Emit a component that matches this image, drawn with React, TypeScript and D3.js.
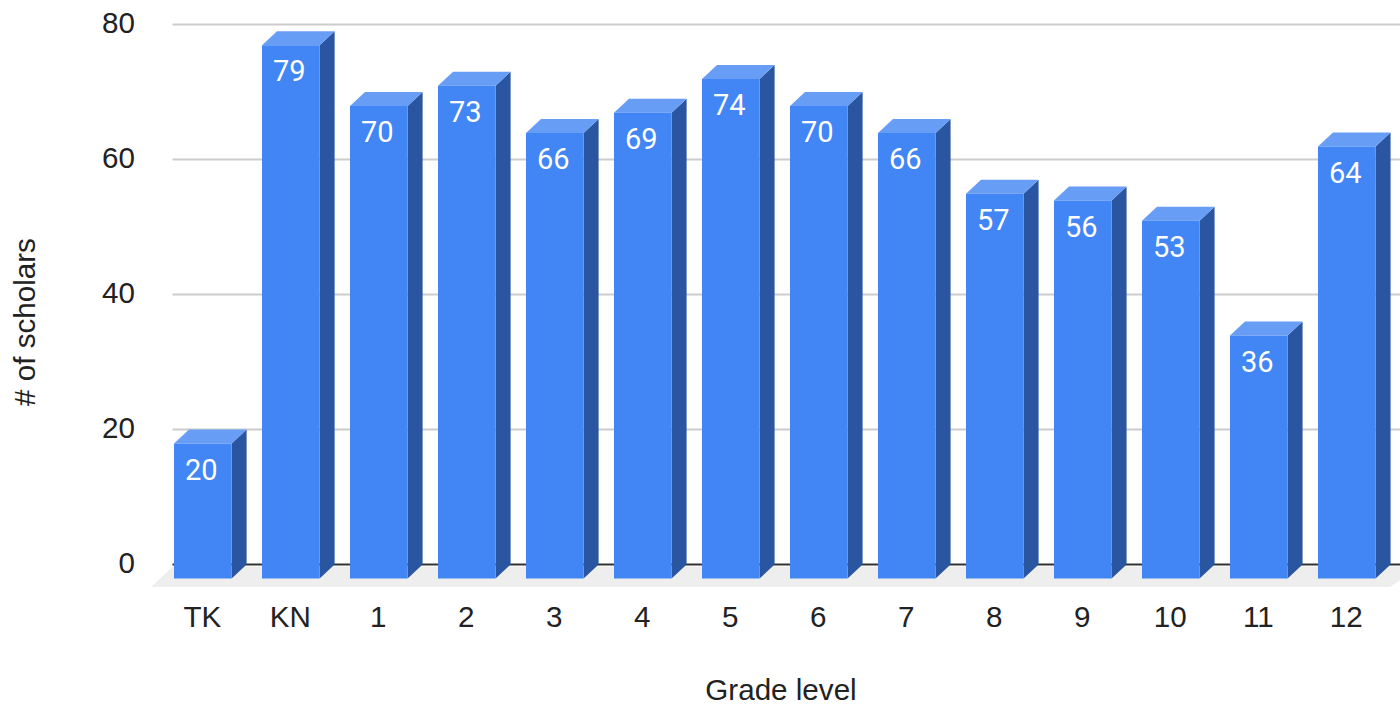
import React, { useEffect, useRef } from "react";
import * as d3 from "d3";

const grades = ["TK", "KN", "1", "2", "3", "4", "5", "6", "7", "8", "9", "10", "11", "12"];
const scholars = [20, 79, 70, 73, 66, 69, 74, 70, 66, 57, 56, 53, 36, 64];
const yTicks = [0, 20, 40, 60, 80];

const W = 1400;
const H = 704;
const depthX = 15;
const depthY = 14;
const axisFont = "'Liberation Sans', Arial, sans-serif";
const axisSize = 29.6;

const App: React.FC = () => {
  const ref = useRef<SVGSVGElement>(null);

  useEffect(() => {
    const svg = d3.select(ref.current);
    svg.selectAll("*").remove();

    // front face positions, the back wall sits one depth up and to the right
    const x = d3
      .scaleBand()
      .domain(grades)
      .range([159.5, 1390.1])
      .paddingInner(0.3455)
      .paddingOuter(0.165);
    const y = d3.scaleLinear().domain([0, 80]).range([578.5, 38.5]);
    const bw = x.bandwidth();
    const line = (pts: [number, number][]) => d3.line()(pts) + "Z";

    // floor
    svg
      .append("path")
      .attr("d", line([[151, 587], [173, 566.5], [W + 20, 566.5], [1390, 587]]))
      .attr("fill", "#eeeeee");

    // grid
    svg
      .append("g")
      .selectAll("line")
      .data(yTicks.filter((d) => d > 0))
      .enter()
      .append("line")
      .attr("x1", 172.5)
      .attr("x2", W)
      .attr("y1", (d) => y(d) - depthY)
      .attr("y2", (d) => y(d) - depthY)
      .attr("stroke", "#cccccc")
      .attr("stroke-width", 2);

    svg
      .append("line")
      .attr("x1", 172.5)
      .attr("x2", W)
      .attr("y1", y(0) - depthY)
      .attr("y2", y(0) - depthY)
      .attr("stroke", "#333333")
      .attr("stroke-width", 2);

    svg
      .append("g")
      .selectAll("text")
      .data(yTicks)
      .enter()
      .append("text")
      .attr("x", 135)
      .attr("y", (d) => y(d) - depthY - 1.5)
      .attr("dy", "0.35em")
      .attr("text-anchor", "end")
      .attr("font-family", axisFont)
      .attr("font-size", axisSize)
      .attr("fill", "#222222")
      .text((d) => d);

    // bars
    const bars = svg
      .append("g")
      .selectAll("g")
      .data(grades.map((g, i) => ({ g, v: scholars[i] })))
      .enter()
      .append("g");

    bars
      .append("path")
      .attr("fill", "#2a56a1")
      .attr("d", (d) => {
        const r = x(d.g)! + bw;
        return line([[r, y(d.v)], [r + depthX, y(d.v) - depthY], [r + depthX, y(0) - depthY], [r, y(0)]]);
      });

    bars
      .append("path")
      .attr("fill", "#689df6")
      .attr("d", (d) => {
        const l = x(d.g)!;
        return line([[l, y(d.v)], [l + depthX, y(d.v) - depthY], [l + bw + depthX, y(d.v) - depthY], [l + bw, y(d.v)]]);
      });

    bars
      .append("rect")
      .attr("x", (d) => x(d.g)!)
      .attr("y", (d) => y(d.v))
      .attr("width", bw)
      .attr("height", (d) => y(0) - y(d.v))
      .attr("fill", "#4285f4");

    bars
      .append("text")
      .attr("x", (d) => x(d.g)! + bw / 2 - 1.5)
      .attr("y", (d) => y(d.v) + 26)
      .attr("dy", "0.35em")
      .attr("text-anchor", "middle")
      .attr("font-family", "Roboto, sans-serif")
      .attr("font-size", 29)
      .attr("fill", "#ffffff")
      .text((d) => d.v);

    // category labels
    svg
      .append("g")
      .selectAll("text")
      .data(grades)
      .enter()
      .append("text")
      .attr("x", (d) => x(d)! + bw / 2 - 0.5)
      .attr("y", 617)
      .attr("dy", "0.35em")
      .attr("text-anchor", "middle")
      .attr("font-family", axisFont)
      .attr("font-size", axisSize)
      .attr("fill", "#222222")
      .text((d) => d);

    svg
      .append("text")
      .attr("x", 781)
      .attr("y", 690)
      .attr("dy", "0.35em")
      .attr("text-anchor", "middle")
      .attr("font-family", axisFont)
      .attr("font-size", axisSize)
      .attr("fill", "#222222")
      .text("Grade level");

    svg
      .append("text")
      .attr("transform", "translate(25,322) rotate(-90)")
      .attr("dy", "0.35em")
      .attr("text-anchor", "middle")
      .attr("font-family", axisFont)
      .attr("font-size", axisSize)
      .attr("fill", "#222222")
      .text("# of scholars");
  }, []);

  return (
    <svg
      ref={ref}
      width={W}
      height={H}
      style={{ position: "absolute", left: 0, top: 0, background: "#ffffff" }}
    />
  );
};

export default App;
